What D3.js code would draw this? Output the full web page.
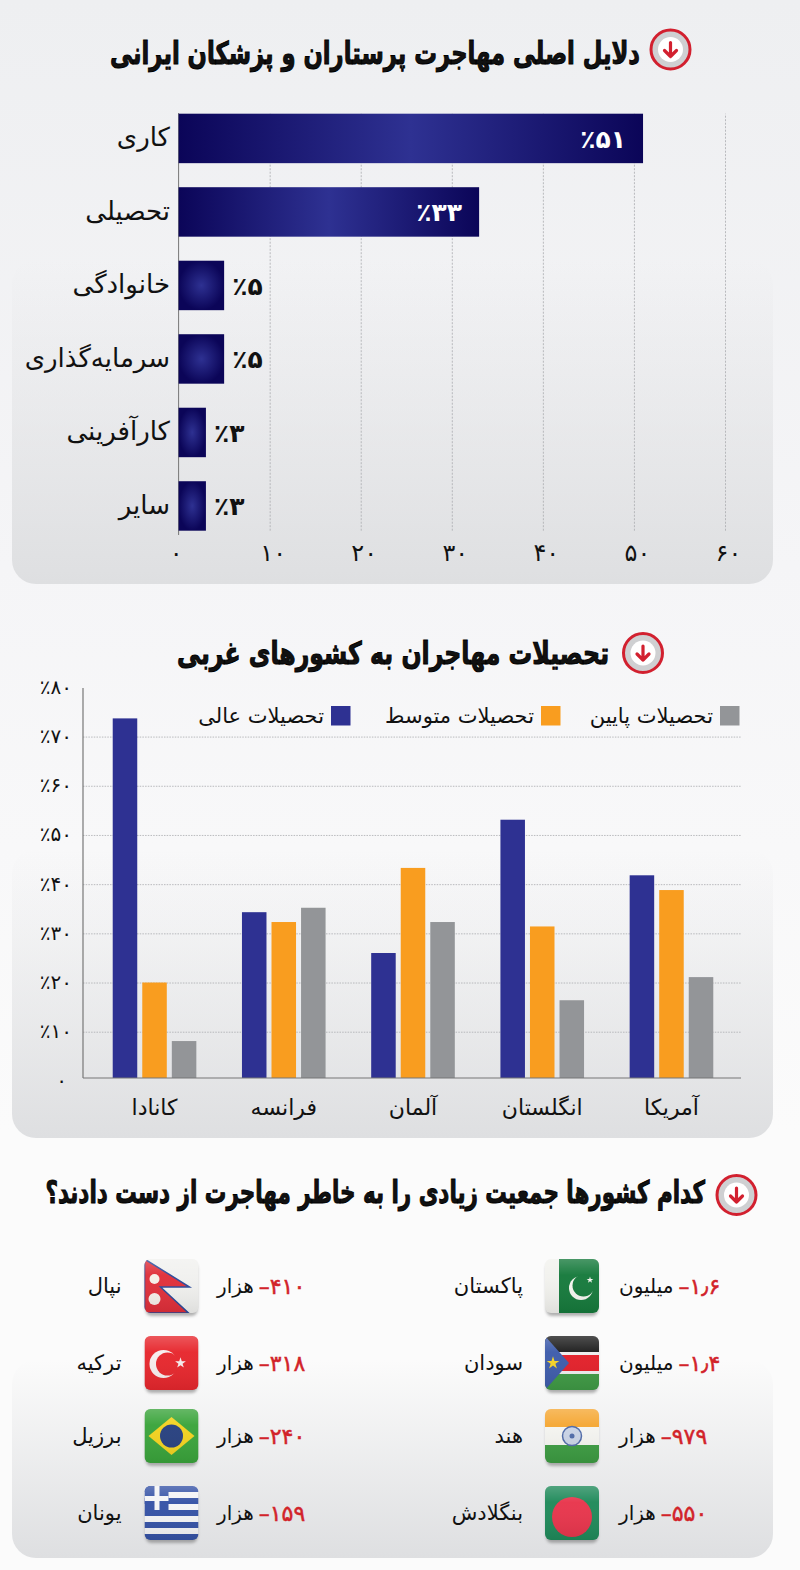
<!DOCTYPE html>
<html lang="fa">
<head>
<meta charset="utf-8">
<script src="https://cdn.jsdelivr.net/npm/d3@7"></script>
<style>
  html, body { margin: 0; padding: 0; background: #fafafa; }
  svg { display: block; }
  text { font-family: "DejaVu Sans", sans-serif; fill: #111; }
</style>
</head>
<body>
<script>
const width = 800
const height = 1570
const font = "DejaVu Sans"

// chart 1
const reasons = ["کاری", "تحصیلی", "خانوادگی", "سرمایه‌گذاری", "کارآفرینی", "سایر"]
const reasonValues = [51, 33, 5, 5, 3, 3]
const reasonTicks = [0, 10, 20, 30, 40, 50, 60]

// chart 2
const countries = ["کانادا", "فرانسه", "آلمان", "انگلستان", "آمریکا"]
const highEdu = [73.7, 34.3, 26, 53.1, 41.8]
const midEdu = [20, 32.3, 43.3, 31.4, 38.8]
const lowEdu = [8.1, 35.2, 32.3, 16.4, 21.1]
const eduNames = ["تحصیلات عالی", "تحصیلات متوسط", "تحصیلات پایین"]
const eduColors = ["#2e3192", "#f99d1f", "#939598"]
const eduTicks = [0, 10, 20, 30, 40, 50, 60, 70, 80]

// list
const lossNames = ["پاکستان", "سودان", "هند", "بنگلادش", "نپال", "ترکیه", "برزیل", "یونان"]
const lossValues = [1.6, 1.4, 979, 550, 410, 318, 240, 159]
const lossUnits = ["میلیون", "میلیون", "هزار", "هزار", "هزار", "هزار", "هزار", "هزار"]
const lossFlags = ["pk", "ss", "in", "bd", "np", "tr", "br", "gr"]

const titles = [
    "دلایل اصلی مهاجرت پرستاران و پزشکان ایرانی",
    "تحصیلات مهاجران به کشورهای غربی",
    "کدام کشورها جمعیت زیادی را به خاطر مهاجرت از دست دادند؟"
]

// persian digits
const fa = v => String(v).replace(/\d/g, d => "۰۱۲۳۴۵۶۷۸۹"[d]).replace(".", "٫")

const svg = d3.select("body").append("svg").attr("width", width).attr("height", height)
const defs = svg.append("defs")

function linear(id, stops) {
    const g = defs.append("linearGradient").attr("id", id)
        .attr("x1", 0).attr("y1", 0).attr("x2", 0).attr("y2", 1)
    stops.forEach(s => g.append("stop").attr("offset", s[0]).attr("stop-color", s[1]).attr("stop-opacity", s[2] === undefined ? 1 : s[2]))
}
linear("page", [[0, "#eeeff1"], [0.36, "#f5f5f7"], [0.72, "#fbfbfb"], [1, "#fbfbfb"]])
linear("panel", [[0, "#dedfe1", 0], [1, "#dedfe1", 1]])
linear("gloss", [[0, "#fff", 0.22], [0.3, "#fff", 0.03], [1, "#000", 0.08]])

const barGrad = defs.append("radialGradient").attr("id", "barGrad")
barGrad.append("stop").attr("offset", 0).attr("stop-color", "#2e3192")
barGrad.append("stop").attr("offset", 1).attr("stop-color", "#0b0558")

// long bars only fade sideways
const wideGrad = defs.append("linearGradient").attr("id", "wideGrad")
wideGrad.append("stop").attr("offset", 0).attr("stop-color", "#0b0558")
wideGrad.append("stop").attr("offset", 0.5).attr("stop-color", "#2e3192")
wideGrad.append("stop").attr("offset", 1).attr("stop-color", "#0b0558")

defs.append("filter").attr("id", "blur").append("feGaussianBlur").attr("stdDeviation", 1.6)
defs.append("clipPath").attr("id", "flagClip").append("rect")
    .attr("width", 54).attr("height", 54).attr("rx", 6)

svg.append("rect").attr("width", width).attr("height", height).attr("fill", "url(#page)")

// the panels only show near their bottom edge
;[[260, 324], [850, 288], [1360, 198]].forEach(p => {
    svg.append("rect").attr("x", 12).attr("y", p[0]).attr("width", 761).attr("height", p[1])
        .attr("rx", 24).attr("fill", "url(#panel)")
})

function drawTitle(text, right, left, y, iconX, iconY) {
    const t = svg.append("text")
        .attr("direction", "rtl").attr("text-anchor", "start")
        .attr("font-size", 31).attr("font-weight", "bold")
        .attr("stroke", "#000").attr("stroke-width", 1)
        .text(text)
    const k = (right - left) / t.node().getComputedTextLength()
    t.attr("transform", `translate(${right},${y}) scale(${k},1)`)

    const g = svg.append("g").attr("transform", `translate(${iconX},${iconY})`)
    g.append("circle").attr("r", 19.5).attr("fill", "#cfd0d2").attr("stroke", "#d2202f").attr("stroke-width", 3)
    g.append("circle").attr("r", 12.5).attr("fill", "#fff")
    g.append("path").attr("d", "M0,-7V7M-6,1L0,7L6,1")
        .attr("fill", "none").attr("stroke", "#d2202f").attr("stroke-width", 3.2)
        .attr("stroke-linecap", "round").attr("stroke-linejoin", "round")
}

drawTitle(titles[0], 640, 110, 64, 670.5, 49.5)
drawTitle(titles[1], 609, 177, 664, 643, 653)
drawTitle(titles[2], 705, 45, 1203, 736.5, 1195)

// ---- chart 1
function drawReasons() {
    const x = d3.scaleLinear().domain([0, 60]).range([178.6, 725])
    const y = d3.scaleBand().domain(reasons).range([113.7, 530.7]).paddingInner(0.327)

    const xAxis = g => g
        .attr("transform", `translate(0,530.7)`)
        .call(d3.axisBottom(x).tickValues(reasonTicks).tickFormat(fa).tickSize(-417).tickPadding(13))
        .call(g => g.select(".domain").remove())
        .call(g => g.selectAll(".tick line").attr("stroke", "#a9abae").attr("stroke-dasharray", "2 1.5").attr("stroke-width", 0.8))
        .call(g => g.selectAll(".tick").filter(d => d === 0).select("line").remove())
        .call(g => g.selectAll(".tick text").attr("font-family", font).attr("font-size", 24).attr("fill", "#111").attr("dx", d => d === 0 ? -3 : 3))

    svg.append("g").call(xAxis)

    svg.append("line")
        .attr("x1", x(0)).attr("x2", x(0)).attr("y1", 113).attr("y2", 535)
        .attr("stroke", "#777").attr("stroke-width", 1)

    svg.append("g").selectAll("rect")
        .data(reasonValues)
        .join("rect")
        .attr("x", x(0))
        .attr("y", (d, i) => y(reasons[i]))
        .attr("width", d => x(d) - x(0))
        .attr("height", y.bandwidth())
        .attr("fill", d => d > 20 ? "url(#wideGrad)" : "url(#barGrad)")

    svg.append("g").selectAll("text")
        .data(reasons)
        .join("text")
        .attr("x", 170)
        .attr("y", d => y(d) + y.bandwidth() / 2)
        .attr("dy", "0.3em")
        .attr("direction", "rtl")
        .attr("text-anchor", "start")
        .attr("font-size", 26)
        .text(d => d)

    // big bars keep the value inside, small ones next to the bar
    svg.append("g").selectAll("text")
        .data(reasonValues)
        .join("text")
        .attr("x", d => d > 20 ? x(d) - 40 : x(d) + 8)
        .attr("y", (d, i) => y(reasons[i]) + y.bandwidth() / 2)
        .attr("dy", "0.38em")
        .attr("text-anchor", d => d > 20 ? "middle" : "start")
        .attr("font-size", 25)
        .attr("font-weight", "bold")
        .style("fill", d => d > 20 ? "#fff" : "#111")
        .text(d => "٪" + fa(d))
}

// ---- chart 2
function drawEducation() {
    const baseY = 1078
    const x0 = d3.scaleBand().domain(countries).range([83, 743]).paddingInner(0.353).paddingOuter(0.23)
    const x1 = d3.scaleBand().domain(d3.range(3)).range([0, x0.bandwidth()]).paddingInner(0.17)
    const y = d3.scaleLinear().domain([0, 80]).range([1080.9, 687.4])

    const yAxis = g => g
        .attr("transform", `translate(83,0)`)
        .call(d3.axisLeft(y).tickValues(eduTicks).tickFormat(d => d === 0 ? fa(d) : "٪" + fa(d)).tickSize(-658).tickPadding(11))
        .call(g => g.select(".domain").remove())
        .call(g => g.selectAll(".tick line").attr("stroke", "#a9abae").attr("stroke-dasharray", "1.5 1.2").attr("stroke-width", 0.8))
        .call(g => g.selectAll(".tick").filter(d => d === 0 || d === 80).select("line").remove())
        .call(g => g.selectAll(".tick text").attr("font-family", font).attr("font-size", 20).attr("fill", "#111").attr("dy", "0.3em").attr("dx", d => d === 0 ? -5 : 0))

    svg.append("g").call(yAxis)

    svg.append("line").attr("x1", 83).attr("x2", 83).attr("y1", 688).attr("y2", baseY).attr("stroke", "#777").attr("stroke-width", 1.2)

    ;[highEdu, midEdu, lowEdu].forEach((vals, s) => {
        svg.append("g").selectAll("rect")
            .data(vals)
            .join("rect")
            .attr("x", (d, i) => x0(countries[i]) + x1(s))
            .attr("y", d => y(d))
            .attr("width", x1.bandwidth())
            .attr("height", d => baseY - y(d))
            .attr("fill", eduColors[s])
    })

    svg.append("line").attr("x1", 83).attr("x2", 741).attr("y1", baseY).attr("y2", baseY).attr("stroke", "#777").attr("stroke-width", 1.2)

    svg.append("g").selectAll("text")
        .data(countries)
        .join("text")
        .attr("x", d => x0(d) + x0.bandwidth() / 2)
        .attr("y", 1115)
        .attr("text-anchor", "middle")
        .attr("font-size", 22)
        .text(d => d)

    // legend, right to left: low, mid, high
    const legendX = [331, 541, 720]
    const legend = svg.append("g").selectAll("g")
        .data(eduNames)
        .join("g")
        .attr("transform", (d, i) => `translate(${legendX[i]},706)`)
    legend.append("rect").attr("width", 19.5).attr("height", 19.5).attr("fill", (d, i) => eduColors[i])
    legend.append("text")
        .attr("x", -7).attr("y", 17)
        .attr("direction", "rtl").attr("text-anchor", "start")
        .attr("font-size", 21)
        .text(d => d)
}

// ---- flags, each one in a 54 x 54 box
function star(g, cx, cy, size, fill) {
    g.append("path").attr("d", d3.symbol(d3.symbolStar, size)()).attr("transform", `translate(${cx},${cy})`).attr("fill", fill)
}
function box(g, x, y, w, h, fill) {
    g.append("rect").attr("x", x).attr("y", y).attr("width", w).attr("height", h).attr("fill", fill)
}
function disc(g, cx, cy, r, fill) {
    return g.append("circle").attr("cx", cx).attr("cy", cy).attr("r", r).attr("fill", fill)
}
const flagPainters = {
    pk(g) {
        box(g, 0, 0, 54, 54, "#f2f2ee"); box(g, 14, 0, 40, 54, "#167a3c")
        disc(g, 36, 29, 12, "#f6f6f0"); disc(g, 38.5, 26.5, 11, "#167a3c")
        star(g, 45, 21, 14, "#f6f6f0")
    },
    ss(g) {
        box(g, 0, 0, 54, 16, "#1d1d1d"); box(g, 0, 16, 54, 3, "#eee")
        box(g, 0, 19, 54, 16, "#e3202a"); box(g, 0, 35, 54, 3, "#eee"); box(g, 0, 38, 54, 16, "#3f9a45")
        g.append("path").attr("d", "M0,0L24,27L0,54Z").attr("fill", "#3e5cab")
        star(g, 8, 27, 50, "#f5d327")
    },
    in(g) {
        box(g, 0, 0, 54, 18, "#f5a733"); box(g, 0, 18, 54, 18, "#f4f4f0"); box(g, 0, 36, 54, 18, "#3d9c42")
        disc(g, 27, 27, 9.5, "#c9d3e6").attr("stroke", "#4f6aa8").attr("stroke-width", 1.5)
        disc(g, 27, 27, 2.5, "#4f6aa8")
    },
    bd(g) {
        box(g, 0, 0, 54, 54, "#1f8a5a")
        disc(g, 27, 31, 20, "#e8354c")
    },
    np(g) {
        box(g, 0, 0, 54, 54, "#f1f1ef")
        g.append("path").attr("d", "M0,0L45,28H16L44,54H0Z").attr("fill", "#e02f3a").attr("stroke", "#2a4a9a").attr("stroke-width", 1.5)
        disc(g, 10, 20, 5, "#f6f0ea"); disc(g, 10, 40, 6, "#f6f0ea")
    },
    tr(g) {
        box(g, 0, 0, 54, 54, "#e7272d")
        disc(g, 19, 28, 14, "#f7eeee"); disc(g, 23, 28, 11.5, "#e7272d")
        star(g, 36, 27, 36, "#f7eeee")
    },
    br(g) {
        box(g, 0, 0, 54, 54, "#3aa43b")
        g.append("path").attr("d", "M27,8L50,27L27,46L4,27Z").attr("fill", "#f3d21f")
        disc(g, 27, 27, 11.5, "#27407f")
    },
    gr(g) {
        d3.range(9).forEach(i => box(g, 0, i * 6, 54, 6, i % 2 ? "#f4f4f6" : "#3552a6"))
        box(g, 0, 0, 24, 24, "#3552a6"); box(g, 10, 0, 5, 24, "#f4f4f6"); box(g, 0, 10, 24, 5, "#f4f4f6")
    }
}

// ---- list
function drawList() {
    const rowTop = [1259, 1336, 1409, 1486]
    const cols = [
        {flag: 545, name: 523, unit: 619},
        {flag: 144.5, name: 121.5, unit: 217}
    ]

    lossNames.forEach((name, i) => {
        const c = cols[Math.floor(i / 4)]
        const top = rowTop[i % 4]
        const mid = top + 27

        svg.append("text")
            .attr("x", c.name).attr("y", mid + 7)
            .attr("direction", "rtl").attr("text-anchor", "start")
            .attr("font-size", 21)
            .text(name)

        svg.append("rect").attr("x", c.flag + 1).attr("y", top + 3).attr("width", 52).attr("height", 54)
            .attr("rx", 6).attr("fill", "#555").attr("opacity", 0.45).attr("filter", "url(#blur)")
        const f = svg.append("g").attr("transform", `translate(${c.flag},${top})`)
        const inner = f.append("g").attr("clip-path", "url(#flagClip)")
        flagPainters[lossFlags[i]](inner)
        f.append("rect").attr("width", 54).attr("height", 54).attr("rx", 6).attr("fill", "url(#gloss)")

        const unit = svg.append("text")
            .attr("x", c.unit).attr("y", mid + 7)
            .attr("font-size", 20)
            .text(lossUnits[i])
        const unitW = unit.node().getComputedTextLength()

        svg.append("text")
            .attr("x", c.unit + unitW + 5).attr("y", mid + 8)
            .attr("font-size", 22)
            .attr("stroke", "#d2232a").attr("stroke-width", 0.5)
            .style("fill", "#d2232a")
            .text("–" + fa(lossValues[i]))
    })
}

drawReasons()
drawEducation()
drawList()
</script>
</body>
</html>
